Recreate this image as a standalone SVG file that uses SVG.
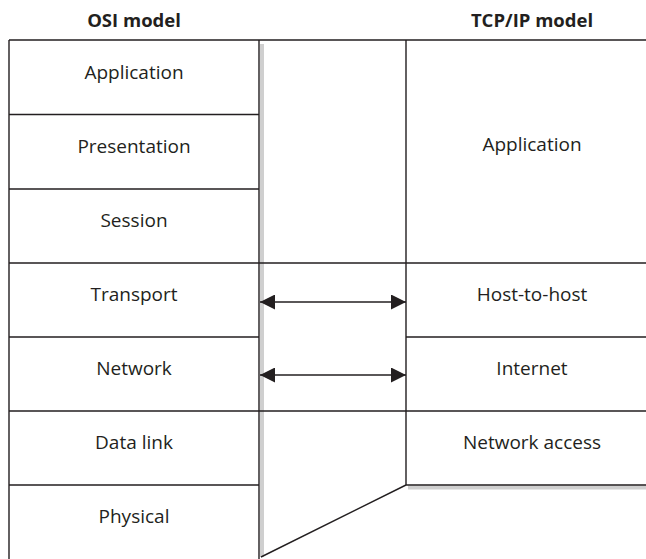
<svg xmlns="http://www.w3.org/2000/svg" width="646" height="559" viewBox="0 0 646 559">
<style>
.t{font-family:"Open Sans","Liberation Sans",sans-serif;font-size:19px;fill:#231f20;text-anchor:middle}
.h{font-family:"Open Sans","Liberation Sans",sans-serif;font-size:18.5px;font-weight:bold;fill:#231f20;text-anchor:middle}
.ln{stroke:#231f20;stroke-width:1.4;fill:none}
.sh{fill:#cfcfcf}
.ar{stroke:#231f20;stroke-width:1.5}
</style>
<defs>
<marker id="ah" viewBox="0 0 15 15" refX="15" refY="7.5" markerWidth="15" markerHeight="15" markerUnits="userSpaceOnUse" orient="auto-start-reverse">
<path d="M0,0 L15,7.5 L0,15 Z" fill="#231f20"/>
</marker>
</defs>
<rect width="646" height="559" fill="#fff"/>
<text class="h" x="134" y="27">OSI model</text>
<text class="h" x="532" y="27">TCP/IP model</text>
<g id="shadows">
<rect class="sh" x="260" y="44" width="4" height="513"/>
<rect class="sh" x="408" y="485.5" width="238" height="4"/>
</g>
<g id="frame">
<path class="ln" d="M9,40 H646 M9,40 V559 M259,40 V559 M406,40 V485 M9,263 H646 M9,411 H646 M9,114.5 H259 M9,189 H259 M9,337 H259 M9,485 H259 M406,337 H646 M406,485 H646 M406,485 L261,557"/>
</g>
<g id="osi-application"><text class="t" x="134" y="79">Application</text></g>
<g id="osi-presentation"><text class="t" x="134" y="153">Presentation</text></g>
<g id="osi-session"><text class="t" x="134" y="227">Session</text></g>
<g id="osi-transport"><text class="t" x="134" y="301">Transport</text></g>
<g id="osi-network"><text class="t" x="134" y="375">Network</text></g>
<g id="osi-datalink"><text class="t" x="134" y="449">Data link</text></g>
<g id="osi-physical"><text class="t" x="134" y="523">Physical</text></g>
<g id="tcp-application"><text class="t" x="532" y="151">Application</text></g>
<g id="tcp-hosttohost"><text class="t" x="532" y="301">Host-to-host</text></g>
<g id="tcp-internet"><text class="t" x="532" y="375">Internet</text></g>
<g id="tcp-networkaccess"><text class="t" x="532" y="449">Network access</text></g>
<g id="connectors">
<line class="ar" x1="260" y1="302" x2="406" y2="302" marker-start="url(#ah)" marker-end="url(#ah)"/>
<line class="ar" x1="260" y1="375" x2="406" y2="375" marker-start="url(#ah)" marker-end="url(#ah)"/>
</g>
</svg>
